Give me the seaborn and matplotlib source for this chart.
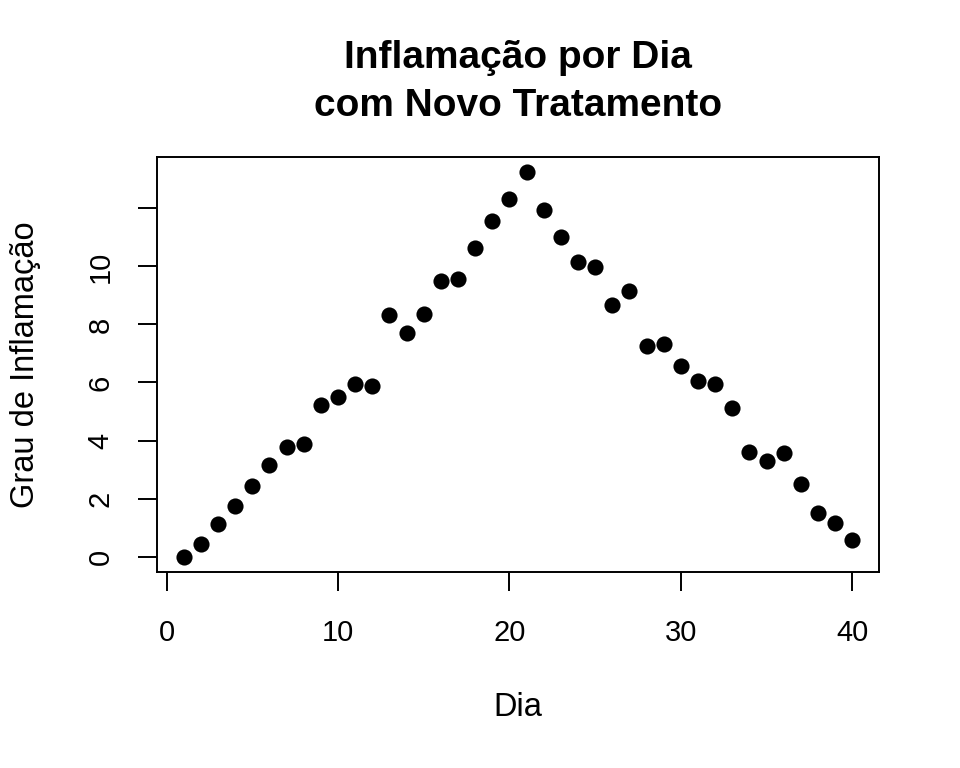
import matplotlib
matplotlib.use("Agg")
import matplotlib.pyplot as plt
import seaborn as sns
import pandas as pd

dias = list(range(1, 41))
inflamacao = [0.00, 0.45, 1.12, 1.75, 2.44, 3.15, 3.79, 3.88, 5.23, 5.51,
              5.94, 5.89, 8.34, 7.72, 8.36, 9.49, 9.56, 10.62, 11.55, 12.32,
              13.24, 11.96, 11.02, 10.15, 9.99, 8.66, 9.14, 7.25, 7.33, 6.57,
              6.06, 5.94, 5.11, 3.60, 3.30, 3.58, 2.49, 1.52, 1.15, 0.58]
xticks = [0, 10, 20, 30, 40]
yticks = [0, 2, 4, 6, 8, 10, 12]
ytick_labels = ["0", "2", "4", "6", "8", "10", ""]

titulo = "Inflamação por Dia\ncom Novo Tratamento"
xlabel = "Dia"
ylabel = "Grau de Inflamação"

df = pd.DataFrame({"Dia": dias, "Inflamacao": inflamacao})

sns.set_style("ticks")
plt.rcParams["font.family"] = ["Liberation Sans", "DejaVu Sans"]
plt.rcParams["text.color"] = "black"
plt.rcParams["axes.labelcolor"] = "black"

fig = plt.figure(figsize=(9.6, 7.68), dpi=100)
ax = fig.add_axes([157/960, 1 - 572/768, (879-157)/960, (572-157)/768])

sns.scatterplot(data=df, x="Dia", y="Inflamacao", ax=ax, color="black",
                s=135, linewidth=0, marker="o")

ymax = max(inflamacao)
ymin = min(inflamacao)
yr = ymax - ymin
ax.set_xlim(1 - 0.04*39, 40 + 0.04*39)
ax.set_ylim(ymin - 0.04*yr, ymax + 0.04*yr)

ax.set_xticks(xticks)
ax.set_xticklabels([str(t) for t in xticks])
ax.set_yticks(yticks)
ax.set_yticklabels(ytick_labels, rotation=90, va="center")

for sp in ax.spines.values():
    sp.set_visible(True)
    sp.set_linewidth(1.4)
    sp.set_color("black")

ax.tick_params(axis="both", direction="out", length=13.5, width=1.4,
               labelsize=21, colors="black")
ax.tick_params(axis="x", pad=20.5)
ax.tick_params(axis="y", pad=17)

ax.set_xlabel(xlabel, fontsize=23.5, labelpad=0, color="black")
ax.set_ylabel(ylabel, fontsize=23.5, labelpad=0, color="black")
ax.xaxis.set_label_coords(0.5, -(707 - 572) / (572 - 157), transform=ax.transAxes)
ax.yaxis.set_label_coords(-(157 - 26) / (879 - 157), 0.5, transform=ax.transAxes)
ax.xaxis.label.set_va("center")
ax.yaxis.label.set_va("center")

fig.text(518/960, 1 - 82/768, titulo, ha="center", va="center",
         fontsize=28, fontweight="bold", linespacing=1.4, color="black")

fig.savefig("out.png", dpi=100, facecolor="white")
